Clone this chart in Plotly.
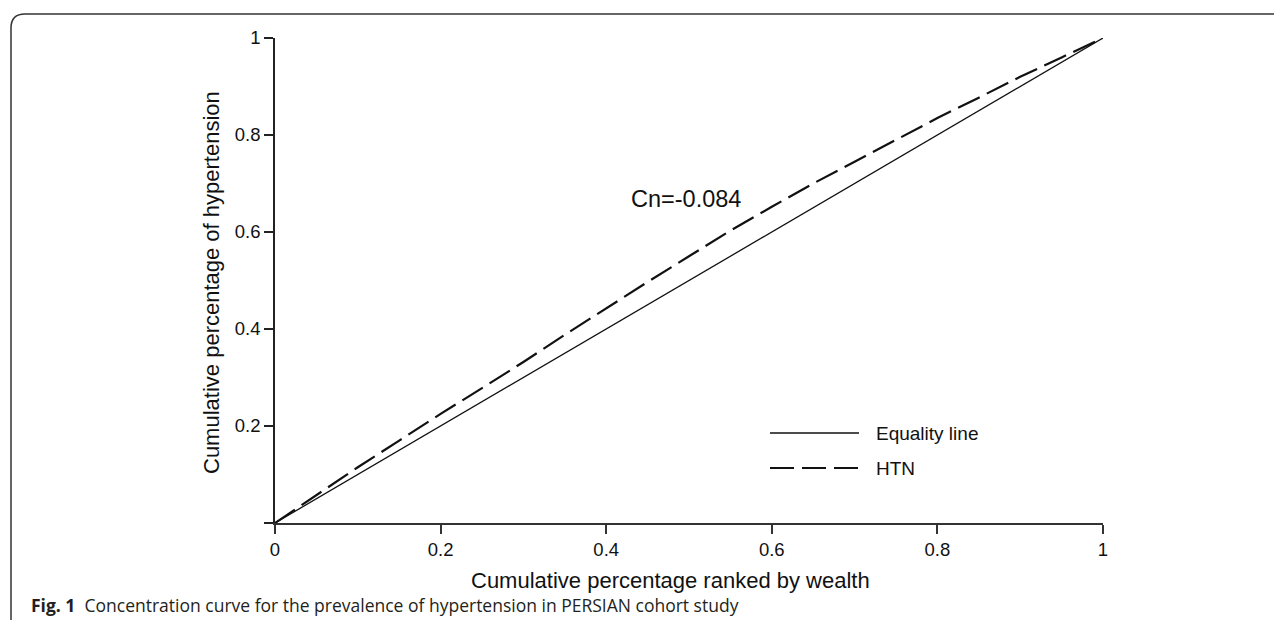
import plotly.graph_objects as go

# ---- data ----
equality_x = [0, 1]
equality_y = [0, 1]

htn_x = [0, 0.05, 0.1, 0.15, 0.2, 0.25, 0.3, 0.35, 0.4, 0.45, 0.5,
         0.55, 0.6, 0.65, 0.7, 0.75, 0.8, 0.85, 0.9, 0.95, 1]
htn_y = [0, 0.058, 0.115, 0.17, 0.225, 0.278, 0.332, 0.388, 0.443, 0.497, 0.55,
         0.603, 0.652, 0.7, 0.745, 0.79, 0.835, 0.877, 0.92, 0.96, 1]

x_ticks = [0, 0.2, 0.4, 0.6, 0.8, 1]
x_tick_labels = ["0", "0.2", "0.4", "0.6", "0.8", "1"]
y_ticks = [0, 0.2, 0.4, 0.6, 0.8, 1]
y_tick_labels = ["", "0.2", "0.4", "0.6", "0.8", "1"]

series_names = ["Equality line", "HTN"]
annotation_text = "Cn=-0.084"
x_title = "Cumulative percentage ranked by wealth"
y_title = "Cumulative percentage of hypertension"
caption_bold = "Fig. 1"
caption_text = "Concentration curve for the prevalence of hypertension in PERSIAN cohort study"

# ---- layout geometry (target pixels; page body has an 8px margin) ----
OFF = 8
W, H = 1282 - OFF, 620 - OFF
L, R, T, B = 275, 1103, 38, 523   # plot area edges in target px


def px(xp):
    return (xp - L) / (R - L)


def py(yp):
    return (B - yp) / (B - T)


DASH = "24px,8px"

fig = go.Figure()
fig.add_trace(go.Scatter(x=equality_x, y=equality_y, mode="lines",
                         name=series_names[0],
                         line=dict(color="#111", width=1.3),
                         showlegend=False, hoverinfo="skip"))
fig.add_trace(go.Scatter(x=htn_x, y=htn_y, mode="lines", name=series_names[1],
                         line=dict(color="#111", width=2.2, dash=DASH),
                         showlegend=False, hoverinfo="skip"))

font = "Liberation Sans, Arial, sans-serif"

annotations = [
    dict(x=px(686), y=py(199), xref="paper", yref="paper", text=annotation_text,
         showarrow=False, xanchor="center", yanchor="middle",
         font=dict(family=font, size=23.5, color="#111")),
    dict(x=px(670), y=py(580), xref="paper", yref="paper", text=x_title,
         showarrow=False, font=dict(family=font, size=22, color="#111"),
         xanchor="center", yanchor="middle"),
    dict(x=px(211), y=py(283), xref="paper", yref="paper", text=y_title,
         textangle=-90, showarrow=False,
         font=dict(family=font, size=22, color="#111"),
         xanchor="center", yanchor="middle"),
    dict(x=px(29), y=py(605), xref="paper", yref="paper",
         text="<b>" + caption_bold + "</b>  " + caption_text,
         showarrow=False, xanchor="left", yanchor="middle",
         font=dict(family="Open Sans, Noto Sans, sans-serif", size=17.5, color="#231f20")),
    dict(x=px(874), y=py(433), xref="paper", yref="paper", text=series_names[0],
         showarrow=False, xanchor="left", yanchor="middle",
         font=dict(family=font, size=19, color="#111")),
    dict(x=px(874), y=py(468), xref="paper", yref="paper", text=series_names[1],
         showarrow=False, xanchor="left", yanchor="middle",
         font=dict(family=font, size=19, color="#111")),
]

r = 14
frame_path = (f"M {px(11)} {py(630)} L {px(11)} {py(14 + r)} "
              f"Q {px(11)} {py(14)} {px(11 + r)} {py(14)} L {px(1295)} {py(14)}")

shapes = [
    dict(type="path", xref="paper", yref="paper", path=frame_path,
         line=dict(color="#333", width=1.5)),
    dict(type="line", xref="paper", yref="paper",
         x0=px(770), x1=px(859), y0=py(433), y1=py(433),
         line=dict(color="#111", width=1.3)),
    dict(type="line", xref="paper", yref="paper",
         x0=px(770), x1=px(859), y0=py(468), y1=py(468),
         line=dict(color="#111", width=2.2, dash=DASH)),
]

fig.update_layout(
    width=W, height=H,
    margin=dict(l=L - OFF, r=W - (R - OFF), t=T - OFF, b=H - (B - OFF), pad=0),
    paper_bgcolor="white", plot_bgcolor="white",
    showlegend=False,
    annotations=annotations,
    shapes=shapes,
    xaxis=dict(range=[0, 1], tickvals=x_ticks, ticktext=x_tick_labels,
               showgrid=False, zeroline=False, showline=True,
               linecolor="#333", linewidth=2.2, ticks="outside", ticklen=9,
               tickwidth=1.5, tickcolor="#333",
               tickfont=dict(family=font, size=18.5, color="#111")),
    yaxis=dict(range=[0, 1], tickvals=y_ticks, ticktext=y_tick_labels,
               showgrid=False, zeroline=False, showline=True,
               linecolor="#222", linewidth=1.5, ticks="outside", ticklen=9,
               tickwidth=1.5, tickcolor="#222",
               tickfont=dict(family=font, size=18.5, color="#111")),
)

fig.write_html("out.html")
